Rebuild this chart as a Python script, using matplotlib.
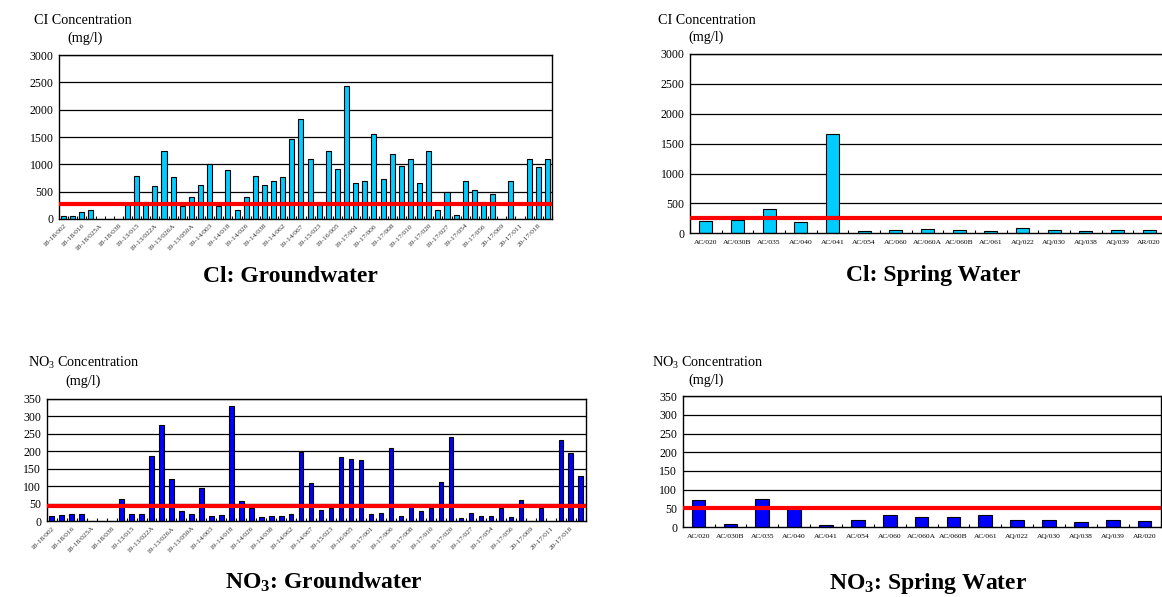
import matplotlib
matplotlib.use("Agg")
import matplotlib.pyplot as plt
import numpy as np

plt.rcParams['font.family'] = ['Liberation Serif', 'DejaVu Serif']
plt.rcParams['mathtext.fontset'] = 'custom'
plt.rcParams['mathtext.rm'] = 'Liberation Serif'
plt.rcParams['mathtext.it'] = 'Liberation Serif:italic'
plt.rcParams['mathtext.bf'] = 'Liberation Serif:bold'

# ---------------- data ----------------
gw_labels = ["18-18/002", "18-18/016", "18-18/025A", "18-18/038", "19-13/015",
             "19-13/022A", "19-13/026A", "19-13/050A", "19-14/003", "19-14/018",
             "19-14/026", "19-14/038", "19-14/062", "19-14/067", "19-15/023",
             "19-16/005", "19-17/001", "19-17/006", "19-17/008", "19-17/010",
             "19-17/020", "19-17/027", "19-17/054", "19-17/056", "20-17/009",
             "20-17/011", "20-17/018"]

gw_cl = [60, 60, 120, 160, 0, 0, 0, 300, 790, 320,
         600, 1250, 760, 240, 400, 620, 1000, 240, 900, 160,
         400, 790, 620, 700, 760, 1460, 1830, 1090, 320, 1250,
         910, 2440, 650, 690, 1560, 740, 1180, 970, 1100, 650,
         1240, 160, 490, 80, 700, 530, 320, 460, 0, 690,
         0, 1100, 950, 1100]

gw_no3 = [15, 18, 22, 22, 0, 0, 0, 65, 22, 22,
          186, 275, 121, 28, 22, 96, 15, 18, 330, 58,
          38, 11, 14, 14, 22, 198, 108, 31, 38, 183,
          177, 174, 22, 25, 210, 14, 48, 28, 38, 111,
          242, 8, 25, 14, 14, 38, 11, 61, 0, 38,
          0, 233, 195, 130]

sp_labels = ["AC/020", "AC/030B", "AC/035", "AC/040", "AC/041", "AC/054", "AC/060",
             "AC/060A", "AC/060B", "AC/061", "AQ/022", "AQ/030", "AQ/038", "AQ/039", "AR/020"]
sp_cl = [200, 220, 410, 184, 1660, 33, 50, 72, 61, 33, 89, 61, 33, 50, 61]
sp_no3 = [71, 8, 75, 47, 5, 19, 32, 27, 27, 32, 19, 19, 13, 19, 16]

cl_limit_gw = 270
cl_limit_sp = 250
no3_limit_gw = 45
no3_limit_sp = 50

CL_COLOR = "#00CCFF"
NO3_COLOR = "#0000FF"

W, H = 1162, 597
fig = plt.figure(figsize=(W / 100, H / 100), dpi=100)


def rect(l, r, t, b):
    return [l / W, 1 - b / H, (r - l) / W, (b - t) / H]


def draw(ax, values, color, limit, ymax, ystep, labels, width, every, xfs, rot):
    n = len(values)
    x = np.arange(n)
    ax.set_axisbelow(True)
    for yv in np.arange(ystep, ymax + 1, ystep):
        ax.axhline(yv, color="black", lw=0.9, zorder=0)
    ax.bar(x, values, width=width, color=color, edgecolor="black", linewidth=0.8, zorder=2)
    ax.axhline(limit, color="#FF0000", lw=3.0, zorder=3)
    ax.set_xlim(-0.5, n - 0.5)
    ax.set_ylim(0, ymax)
    ax.set_yticks(np.arange(0, ymax + 1, ystep))
    ax.tick_params(axis="y", length=0, labelsize=8.5, pad=4)
    ticks = x[::every]
    ax.set_xticks(ticks)
    if rot:
        ax.set_xticklabels(labels, rotation=45, ha="right", rotation_mode="anchor",
                           fontsize=xfs, color="#333333")
        ax.tick_params(axis="x", length=0, pad=3)
    else:
        ax.set_xticklabels(labels, fontsize=xfs)
        ax.tick_params(axis="x", length=0, pad=5)
    ax.set_xticks(np.arange(-0.5, n, 1.0), minor=True)
    ax.tick_params(axis="x", which="minor", direction="in", length=2, width=0.8)
    for s in ax.spines.values():
        s.set_linewidth(1.0)
        s.set_color("black")


ax1 = fig.add_axes(rect(59, 552, 55, 219))
draw(ax1, gw_cl, CL_COLOR, cl_limit_gw, 3000, 500, gw_labels, 0.55, 2, 5.3, True)

ax2 = fig.add_axes(rect(690, 1165, 54, 233.3))
draw(ax2, sp_cl, CL_COLOR, cl_limit_sp, 3000, 500, sp_labels, 0.42, 1, 5.4, False)

ax3 = fig.add_axes(rect(46.7, 585.7, 398.7, 521.3))
draw(ax3, gw_no3, NO3_COLOR, no3_limit_gw, 350, 50, gw_labels, 0.45, 2, 5.3, True)

ax4 = fig.add_axes(rect(682.7, 1160.5, 396.3, 527))
draw(ax4, sp_no3, NO3_COLOR, no3_limit_sp, 350, 50, sp_labels, 0.43, 1, 5.4, False)


def ftext(x, y, s, **kw):
    fig.text(x / W, 1 - y / H, s, **kw)


lab_fs = 10.2
ftext(34, 20, "CI Concentration", fontsize=lab_fs, ha="left", va="center")
ftext(85, 38, "(mg/l)", fontsize=lab_fs, ha="center", va="center")
ftext(658, 20, "CI Concentration", fontsize=lab_fs, ha="left", va="center")
ftext(706, 37, "(mg/l)", fontsize=lab_fs, ha="center", va="center")
ftext(28, 363, r"NO$_\mathregular{3}$ Concentration", fontsize=lab_fs, ha="left", va="center")
ftext(83, 381, "(mg/l)", fontsize=lab_fs, ha="center", va="center")
ftext(652, 363, r"NO$_\mathregular{3}$ Concentration", fontsize=lab_fs, ha="left", va="center")
ftext(706, 380, "(mg/l)", fontsize=lab_fs, ha="center", va="center")

tfs = 17
ftext(290, 276, "Cl: Groundwater", fontsize=tfs, fontweight="bold", ha="center", va="center")
ftext(933, 276, "Cl: Spring Water", fontsize=tfs, fontweight="bold", ha="center", va="center")
ftext(324, 582, r"NO$_\mathbf{3}$: Groundwater", fontsize=tfs, fontweight="bold", ha="center", va="center")
ftext(928, 584, r"NO$_\mathbf{3}$: Spring Water", fontsize=tfs, fontweight="bold", ha="center", va="center")

fig.savefig("out.png", dpi=100)
